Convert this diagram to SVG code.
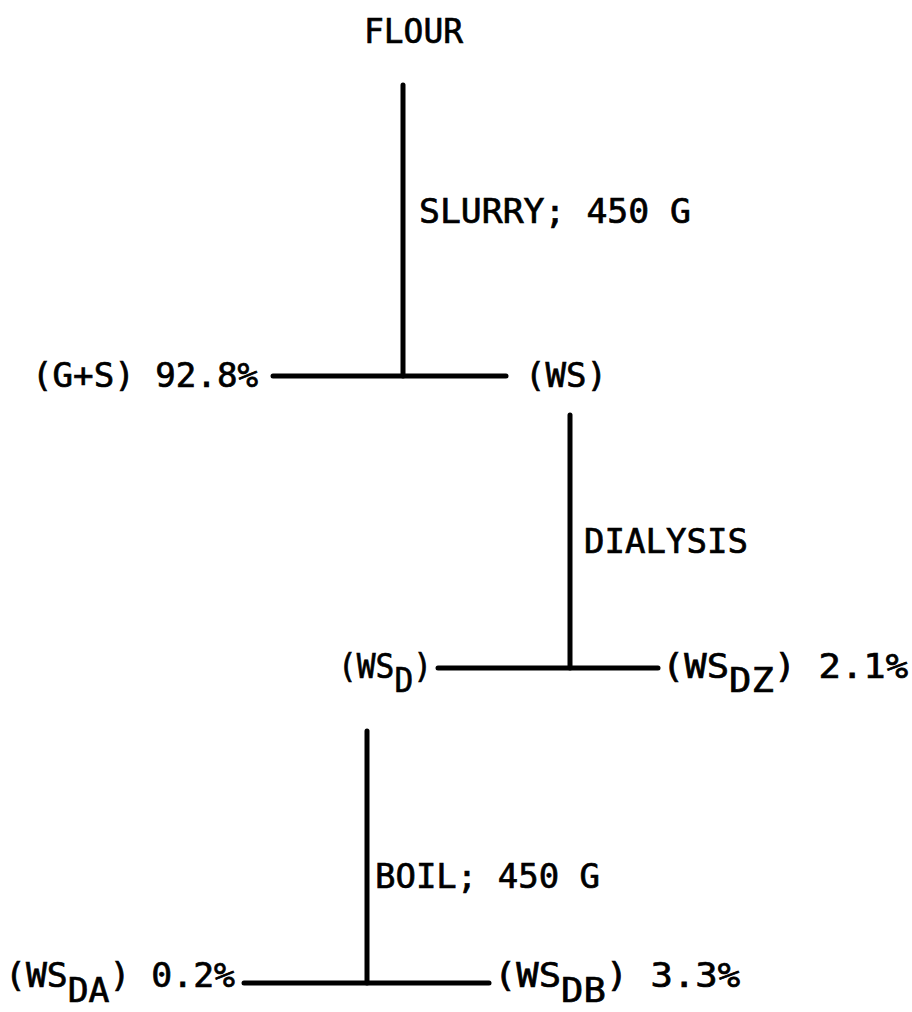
<svg xmlns="http://www.w3.org/2000/svg" width="912" height="1012" viewBox="0 0 912 1012">
<style>
text{font-family:"DejaVu Sans Mono","Liberation Mono",monospace;font-size:34px;fill:#000;stroke:#000;stroke-width:0.7}
.ln{stroke:#000;stroke-width:5;stroke-linecap:round;fill:none}
</style>
<rect width="912" height="1012" fill="#fff"/>
<g id="connectors">
<line class="ln" x1="403" y1="85" x2="403" y2="376"/>
<line class="ln" x1="273" y1="376" x2="506" y2="376"/>
<line class="ln" x1="570" y1="415" x2="570" y2="668"/>
<line class="ln" x1="438" y1="668" x2="658" y2="668"/>
<line class="ln" x1="367" y1="731" x2="367" y2="983"/>
<line class="ln" x1="244" y1="983" x2="489" y2="983"/>
</g>
<g id="flour"><text x="364" y="43" textLength="99" lengthAdjust="spacingAndGlyphs">FLOUR</text></g>
<g id="slurry"><text x="419" y="223" textLength="272" lengthAdjust="spacingAndGlyphs">SLURRY; 450 G</text></g>
<g id="gs"><text x="32" y="387" textLength="226" lengthAdjust="spacingAndGlyphs">(G+S) 92.8%</text></g>
<g id="ws"><text x="525" y="387" textLength="82" lengthAdjust="spacingAndGlyphs">(WS)</text></g>
<g id="dialysis"><text x="584" y="553" textLength="164" lengthAdjust="spacingAndGlyphs">DIALYSIS</text></g>
<g id="wsd"><text x="338" y="678" textLength="94" lengthAdjust="spacingAndGlyphs">(WS<tspan dy="14">D</tspan><tspan dy="-14">)</tspan></text></g>
<g id="wsdz"><text x="662" y="678" textLength="246" lengthAdjust="spacingAndGlyphs">(WS<tspan dy="14">DZ</tspan><tspan dy="-14">) 2.1%</tspan></text></g>
<g id="boil"><text x="375" y="888" textLength="225" lengthAdjust="spacingAndGlyphs">BOIL; 450 G</text></g>
<g id="wsda"><text x="5" y="987" textLength="230" lengthAdjust="spacingAndGlyphs">(WS<tspan dy="15">DA</tspan><tspan dy="-15">) 0.2%</tspan></text></g>
<g id="wsdb"><text x="494" y="987" textLength="246" lengthAdjust="spacingAndGlyphs">(WS<tspan dy="15">DB</tspan><tspan dy="-15">) 3.3%</tspan></text></g>
</svg>
